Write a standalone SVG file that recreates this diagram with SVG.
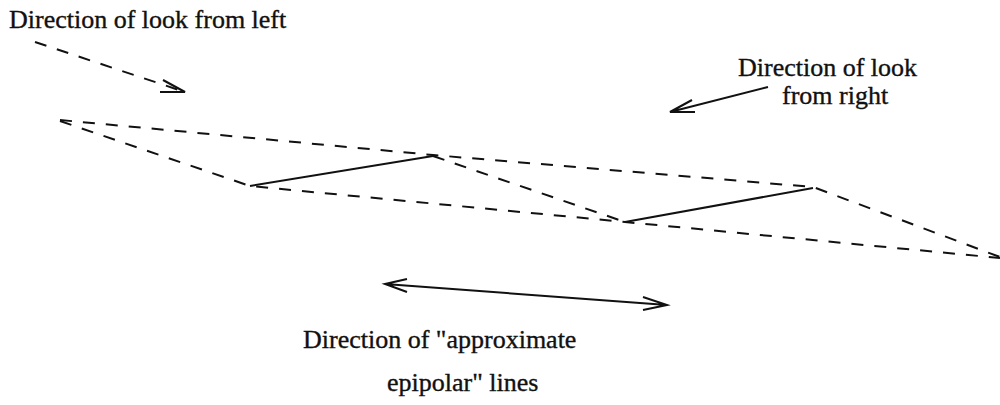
<svg xmlns="http://www.w3.org/2000/svg" width="1000" height="405" viewBox="0 0 1000 405">
<style>
.t{font-family:"Liberation Serif","Times New Roman",serif;font-size:26px;fill:#111;stroke:#111;stroke-width:0.35}
.d{fill:none;stroke:#111;stroke-width:2;stroke-dasharray:12 11}
.s{fill:none;stroke:#111;stroke-width:2}
</style>
<rect width="1000" height="405" fill="#fff"/>
<g id="label-left"><text class="t" x="9" y="28">Direction of look from left</text></g>
<g id="label-right"><text class="t" x="738" y="76">Direction of look</text><text class="t" x="782" y="104">from right</text></g>
<g id="label-bottom"><text class="t" x="303" y="348">Direction of "approximate</text><text class="t" x="387" y="391">epipolar" lines</text></g>
<g id="connectors">
<path class="d" d="M35 42 L185 92"/>
<path class="s" d="M163 80 L185 92 L160 92"/>
<path class="s" d="M768 87 L670 112 M692 100 L670 112 L695 112"/>
<path class="s" d="M385 284 L667 305 M407 279 L385 284 L407 292 M643 297 L667 305 L643 310"/>
<polyline class="d" points="60,120 433,155 813,187 1000,257"/>
<polyline class="d" points="60,121 250,186 625,222 1000,258"/>
<path class="d" d="M433,156 L625,222"/>
<path class="s" d="M250,186 L433,156 M625,222 L813,188"/>
</g>
</svg>
